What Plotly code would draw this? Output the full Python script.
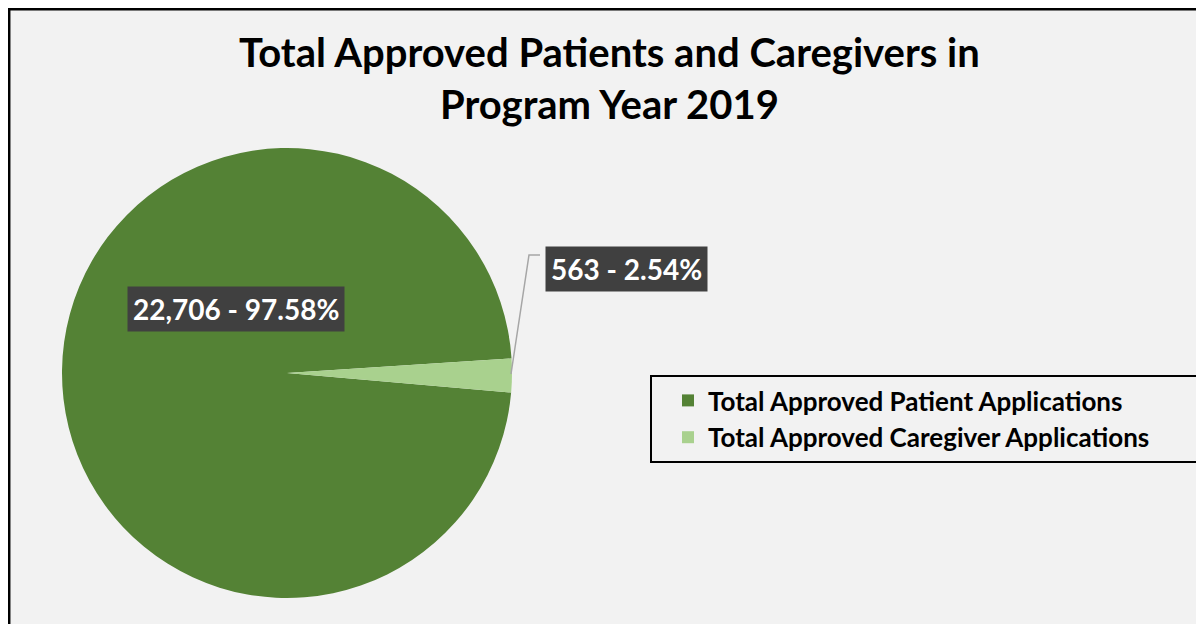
import plotly.graph_objects as go

W, H = 1204, 624
OFF = 8  # the page body adds an 8px margin around the figure

# data
labels = ['Total Approved Patient Applications', 'Total Approved Caregiver Applications']
counts = [22706, 563]
pct_text = ['97.58%', '2.54%']
colors = ['#548235', '#A9D18E']
title = 'Total Approved Patients and Caregivers in<br>Program Year 2019'

FONT = 'Lato'


def px(x, y):
    # page pixel position -> paper coords
    return (x - OFF) / W, 1 - (y - OFF) / H


dx0, dy1 = px(62, 148)
dx1, dy0 = px(512, 598)

fig = go.Figure(go.Pie(
    labels=labels,
    values=counts,
    sort=False,
    direction='clockwise',
    rotation=95,
    marker=dict(colors=colors, line=dict(width=0)),
    textinfo='none',
    hoverinfo='label+value',
    domain=dict(x=[dx0, dx1], y=[dy0, dy1]),
))

# data labels with dark boxes
label_pos = [(236, 309), (626, 269)]
for c, p, (lx, ly) in zip(counts, pct_text, label_pos):
    ax_, ay_ = px(lx, ly)
    fig.add_annotation(
        x=ax_, y=ay_, xref='paper', yref='paper',
        xanchor='center', yanchor='middle',
        text=f'<b>{c:,} - {p}</b>',
        showarrow=False,
        font=dict(family=FONT, size=28, color='white'),
        bgcolor='#404040', borderpad=5,
    )

# leader line for the small slice
p1, p2, p3 = px(511, 374), px(529, 255), px(540, 255)
fig.add_shape(
    type='path', xref='paper', yref='paper',
    path=f'M {p1[0]} {p1[1]} L {p2[0]} {p2[1]} L {p3[0]} {p3[1]}',
    line=dict(color='#A6A6A6', width=1.5),
)

# title
tx, ty = px(609, 78)
fig.add_annotation(
    x=tx, y=ty, xref='paper', yref='paper',
    xanchor='center', yanchor='middle',
    text=f'<b>{title}</b>', showarrow=False,
    font=dict(family=FONT, size=40, color='black'),
)

# outer frame
fig.add_shape(
    type='rect', xref='paper', yref='paper', layer='below',
    x0=0.001, y0=-0.02, x1=1.02, y1=0.998,
    fillcolor='#F2F2F2', line=dict(color='black', width=2.5),
)

# legend frame
bx0, by1 = px(651, 376)
bx1, by0 = px(1197, 462)
fig.add_shape(
    type='rect', xref='paper', yref='paper',
    x0=bx0, y0=by0, x1=bx1, y1=by1,
    line=dict(color='black', width=2),
)

lx, ly = px(668, 419)
fig.update_layout(
    width=W, height=H,
    margin=dict(l=0, r=0, t=0, b=0),
    paper_bgcolor='white',
    plot_bgcolor='white',
    showlegend=True,
    legend=dict(
        x=lx, y=ly, xanchor='left', yanchor='middle',
        bgcolor='rgba(0,0,0,0)', borderwidth=0,
        font=dict(family=FONT, size=26, color='black', weight='bold'),
        itemwidth=30,
    ),
)

fig.write_html('out.html')
